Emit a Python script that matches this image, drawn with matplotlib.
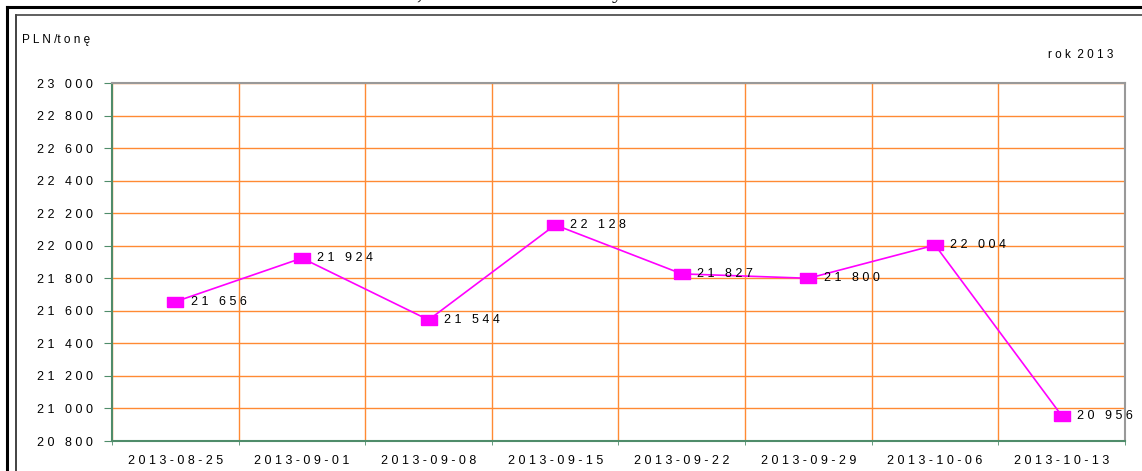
import matplotlib
matplotlib.use("Agg")
import matplotlib.pyplot as plt
from matplotlib.lines import Line2D

plt.rcParams['font.family'] = ['Liberation Sans', 'DejaVu Sans']

# data
dates = ["2013-08-25", "2013-09-01", "2013-09-08", "2013-09-15",
         "2013-09-22", "2013-09-29", "2013-10-06", "2013-10-13"]
prices = [21656, 21924, 21544, 22128, 21827, 21800, 22004, 20956]
yticks = list(range(20800, 23001, 200))

W, H = 1142, 471
GREEN = "#4f8c6a"
ORANGE = "#ff8a33"
MAGENTA = "#ff00ff"


def spaced(s):
    # emulate the wide letter spacing of the original
    return " ".join(s)


def fmt(v):
    return spaced(f"{v:,}".replace(",", " "))


fig = plt.figure(figsize=(W / 100, H / 100), dpi=100)
ax = fig.add_axes([112 / W, 1 - 441 / H, (1125 - 112) / W, (441 - 83) / H])

xs = list(range(len(dates)))
sq = [(-7.5, -5.3), (7.5, -5.3), (7.5, 5.3), (-7.5, 5.3), (-7.5, -5.3)]
ax.plot(xs, prices, color=MAGENTA, lw=1.2, marker=sq, markersize=11,
        markerfacecolor=MAGENTA, markeredgecolor=MAGENTA, zorder=5)
for x, v in zip(xs, prices):
    ax.annotate(fmt(v), (x, v), xytext=(11, 0), textcoords="offset points",
                va="center", ha="left", fontsize=9, zorder=6)

ax.set_xlim(-0.5, len(dates) - 0.5)
ax.set_ylim(20800, 23000)
ax.set_yticks(yticks)
ax.set_yticklabels([fmt(v) for v in yticks])
ax.set_xticks(xs)
ax.set_xticklabels([spaced(d) for d in dates])
ax.set_xticks([i - 0.5 for i in range(len(dates) + 1)], minor=True)

ax.tick_params(axis="x", which="major", length=0, pad=10, labelsize=9)
ax.tick_params(axis="x", which="minor", length=3, color=GREEN, direction="out")
ax.tick_params(axis="y", length=6, color=GREEN, pad=8, labelsize=9)

ax.grid(True, axis="y", which="major", color=ORANGE, lw=1.0)
ax.grid(True, axis="x", which="minor", color=ORANGE, lw=1.0)
ax.set_axisbelow(True)

for side in ("left", "bottom"):
    ax.spines[side].set_color(GREEN)
    ax.spines[side].set_linewidth(1.5)
for side in ("top", "right"):
    ax.spines[side].set_color("#999999")
    ax.spines[side].set_linewidth(1.5)

fig.text(22 / W, 1 - 40 / H, spaced("PLN/") + spaced("tonę"), fontsize=8.5,
         va="center", ha="left")
fig.text(1113 / W, 1 - 55 / H, spaced("rok") + "  " + spaced("2013"),
         fontsize=8.5, va="center", ha="right")

# remnants of the cut-off title above the frame
fig.text(416 / W, 1.004, ",", family="Liberation Serif", fontsize=16,
         va="baseline", ha="left")
fig.text(612 / W, 1.004, "y", family="Liberation Serif", fontsize=16,
         va="baseline", ha="left")

# outer frame (only left and top edges are visible)
fig.add_artist(Line2D([7 / W, 7 / W], [0, 1 - 7 / H], color="black", lw=2.2))
fig.add_artist(Line2D([7 / W, 1], [1 - 7 / H, 1 - 7 / H], color="black", lw=2.2))
fig.add_artist(Line2D([16 / W, 16 / W], [0, 1 - 14.5 / H], color="#222222", lw=1.2))
fig.add_artist(Line2D([16 / W, 1], [1 - 14.5 / H, 1 - 14.5 / H], color="#444444", lw=1.2))

fig.savefig("out.png", dpi=100)
